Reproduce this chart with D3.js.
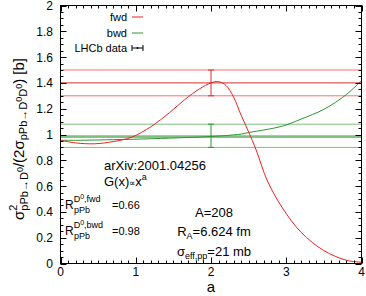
<!DOCTYPE html>
<html><head><meta charset="utf-8">
<script src="https://cdn.jsdelivr.net/npm/d3@7"></script>
<style>body{margin:0;background:#fff}svg{display:block}text{font-family:"Liberation Sans",Arial,sans-serif}</style>
</head><body>
<script>
const aVals = [0, 0.2, 0.45, 0.7, 0.95, 1.2, 1.45, 1.65, 1.85, 2.0, 2.1, 2.2, 2.3, 2.4, 2.5, 2.6, 2.75, 2.95, 3.2, 3.5, 3.8, 4.0];
const fwdVals = [0.955, 0.935, 0.928, 0.945, 0.98, 1.06, 1.17, 1.27, 1.355, 1.40, 1.41, 1.38, 1.29, 1.15, 1.02, 0.88, 0.64, 0.43, 0.24, 0.10, 0.025, 0.01];
const bwdVals = [0.955, 0.955, 0.957, 0.96, 0.963, 0.967, 0.972, 0.976, 0.98, 0.985, 0.988, 0.992, 0.997, 1.003, 1.015, 1.025, 1.04, 1.065, 1.12, 1.195, 1.31, 1.42];
const dataA = 2;
const fwdData = {val: 1.4, lo: 1.3, hi: 1.5};
const bwdData = {val: 0.98, lo: 0.9, hi: 1.08};
const xTicks = [0, 1, 2, 3, 4];
const yTicks = [0, 0.2, 0.4, 0.6, 0.8, 1, 1.2, 1.4, 1.6, 1.8, 2];

const W = 366, H = 296;
const L = 60.5, R = 361.5, T = 5.5, B = 263.5;
const x = d3.scaleLinear().domain([0, 4]).range([L, R]);
const y = d3.scaleLinear().domain([0, 2]).range([B, T]);

const svg = d3.select("body").append("svg").attr("width", W).attr("height", H);

const red = "#f02020", redL = "#ff7070", green = "#2e962e", greenL = "#7cc07c";

function hline(v, c, w) {
  svg.append("line").attr("x1", L).attr("x2", R).attr("y1", y(v)).attr("y2", y(v))
    .attr("stroke", c).attr("stroke-width", w);
}
hline(fwdData.hi, redL, 1); hline(fwdData.lo, redL, 1); hline(fwdData.val, "#d83030", 1);
hline(bwdData.hi, greenL, 1); hline(bwdData.lo, greenL, 1);
hline(bwdData.val + 0.01, greenL, 1.2); hline(bwdData.val, green, 1);

const line = d3.line().curve(d3.curveCatmullRom.alpha(0.5));
svg.append("path").attr("d", line(aVals.map((a, i) => [x(a), y(bwdVals[i])])))
  .attr("fill", "none").attr("stroke", green).attr("stroke-width", 1);
svg.append("path").attr("d", line(aVals.map((a, i) => [x(a), y(fwdVals[i])])))
  .attr("fill", "none").attr("stroke", red).attr("stroke-width", 1);

function ebar(d, c) {
  const xx = x(dataA);
  svg.append("line").attr("x1", xx).attr("x2", xx).attr("y1", y(d.lo)).attr("y2", y(d.hi)).attr("stroke", c);
  [d.lo, d.hi].forEach(v => svg.append("line").attr("x1", xx - 3).attr("x2", xx + 3)
    .attr("y1", y(v)).attr("y2", y(v)).attr("stroke", c));
}
ebar(fwdData, "#d83030"); ebar(bwdData, green);

svg.append("rect").attr("x", L).attr("y", T).attr("width", R - L).attr("height", B - T)
  .attr("fill", "none").attr("stroke", "#000").attr("stroke-width", 1);

const tg = svg.append("g").attr("stroke", "#000").attr("stroke-width", 1);
d3.range(0, 40.5, 1).forEach(i => {
  const v = i / 10, len = i % 10 === 0 ? 6 : 3, xx = Math.round(x(v)) + 0.5;
  tg.append("line").attr("x1", xx).attr("x2", xx).attr("y1", B).attr("y2", B - len);
  tg.append("line").attr("x1", xx).attr("x2", xx).attr("y1", T).attr("y2", T + len);
});
d3.range(0, 40.5, 1).forEach(i => {
  const v = i / 20, len = i % 4 === 0 ? 6 : 3, yy = Math.round(y(v)) + 0.5;
  tg.append("line").attr("x1", L).attr("x2", L + len).attr("y1", yy).attr("y2", yy);
  tg.append("line").attr("x1", R).attr("x2", R - len).attr("y1", yy).attr("y2", yy);
});

svg.append("g").selectAll("text").data(xTicks).join("text")
  .attr("x", d => x(d)).attr("y", 276).attr("text-anchor", "middle")
  .attr("font-size", 12).text(d => d);
svg.append("g").selectAll("text").data(yTicks).join("text")
  .attr("x", 53).attr("y", d => y(d) + 4.5).attr("text-anchor", "end")
  .attr("font-size", 12).text(d => d3.format("~g")(d));

svg.append("text").attr("x", x(2)).attr("y", 292).attr("text-anchor", "middle")
  .attr("font-size", 15).text("a");
const yl = svg.append("text").attr("transform", "translate(24,139) rotate(-90)")
  .attr("text-anchor", "middle").attr("font-size", 15);
yl.append("tspan").text("σ");
yl.append("tspan").attr("font-size", 11).attr("dy", -7).text("2");
yl.append("tspan").attr("font-size", 11).attr("dx", -6).attr("dy", 11).text("pPb→D");
yl.append("tspan").attr("font-size", 9).attr("dy", -5).text("0");
yl.append("tspan").attr("dy", 1).text("/(2σ");
yl.append("tspan").attr("font-size", 11).attr("dy", 3).text("pPb→D");
yl.append("tspan").attr("font-size", 9).attr("dy", -5).text("0");
yl.append("tspan").attr("font-size", 11).attr("dy", 5).text("D");
yl.append("tspan").attr("font-size", 9).attr("dy", -5).text("0");
yl.append("tspan").attr("dy", 2).text(") [b]");

const legend = [["fwd", red, 21], ["bwd", green, 37], ["LHCb data", "#000", 52]];
legend.forEach(([t, c, yy]) => {
  svg.append("text").attr("x", 127).attr("y", yy).attr("text-anchor", "end").attr("font-size", 11).text(t);
  svg.append("line").attr("x1", 132).attr("x2", 143).attr("y1", yy - 4).attr("y2", yy - 4).attr("stroke", c);
});
[132, 143].forEach(xx => svg.append("line").attr("x1", xx).attr("x2", xx).attr("y1", 45).attr("y2", 51).attr("stroke", "#000"));
svg.append("circle").attr("cx", 137.5).attr("cy", 48).attr("r", 1).attr("fill", "#000");

svg.append("text").attr("x", 104).attr("y", 170).attr("font-size", 13).text("arXiv:2001.04256");
const g1 = svg.append("text").attr("x", 104).attr("y", 186).attr("font-size", 13);
g1.append("tspan").text("G(x)");
g1.append("tspan").attr("font-size", 9).text("∝");
g1.append("tspan").text("x");
g1.append("tspan").attr("font-size", 9).attr("dy", -6).text("a");

function rtext(yy, lab, val) {
  const t = svg.append("text").attr("x", 65).attr("y", yy).attr("font-size", 12);
  t.append("tspan").text("R");
  t.append("tspan").attr("font-size", 9).attr("dy", -7).text("D");
  t.append("tspan").attr("font-size", 7).attr("dy", -3).text("0");
  t.append("tspan").attr("font-size", 9).attr("dy", 3).text("," + lab);
  t.append("tspan").attr("font-size", 9).attr("x", 74).attr("dy", 11).text("pPb");
  t.append("tspan").attr("font-size", 11).attr("x", 112).attr("dy", -4).text("=" + val);
}
rtext(209, "fwd", "0.66");
rtext(235, "bwd", "0.98");

svg.append("text").attr("x", 214).attr("y", 217).attr("text-anchor", "middle").attr("font-size", 13).text("A=208");
const ra = svg.append("text").attr("x", 214).attr("y", 236).attr("text-anchor", "middle").attr("font-size", 13);
ra.append("tspan").text("R");
ra.append("tspan").attr("font-size", 9).attr("dy", 3).text("A");
ra.append("tspan").attr("dy", -3).text("=6.624 fm");
const se = svg.append("text").attr("x", 214).attr("y", 256).attr("text-anchor", "middle").attr("font-size", 13);
se.append("tspan").text("σ");
se.append("tspan").attr("font-size", 9).attr("dy", 3).text("eff,pp");
se.append("tspan").attr("dy", -3).text("=21 mb");
</script>
</body></html>
